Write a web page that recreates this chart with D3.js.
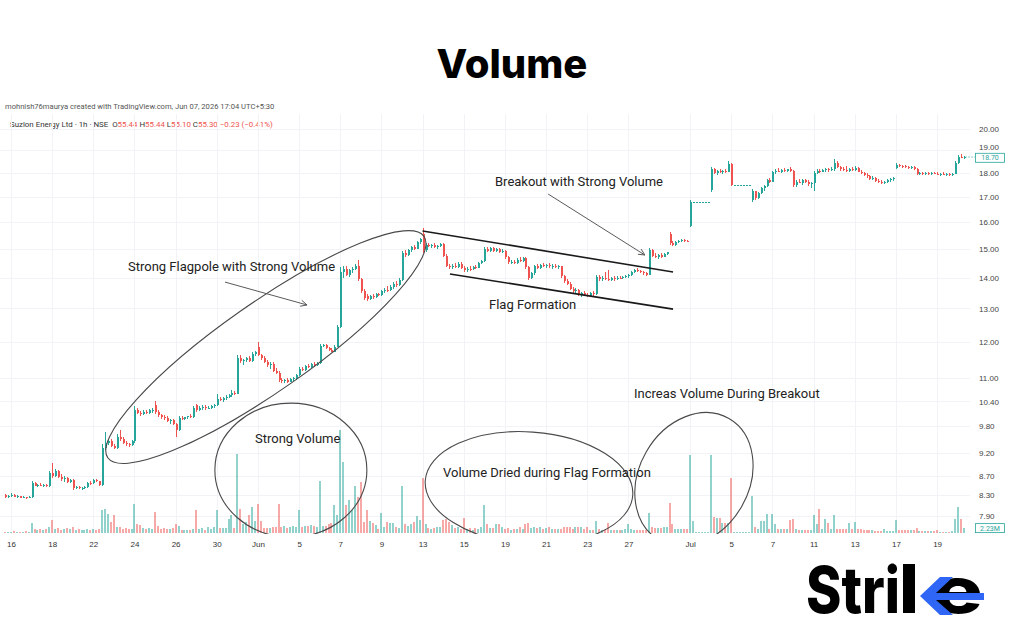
<!DOCTYPE html>
<html>
<head>
<meta charset="utf-8">
<script src="https://cdn.jsdelivr.net/npm/d3@7"></script>
<style>
  html, body { margin: 0; padding: 0; background: #fff; }
  svg { display: block; font-family: Roboto, "Liberation Sans", sans-serif; }
</style>
</head>
<body>
<svg id="chart" width="1024" height="640"></svg>
<script>
// hourly bars, 7 per session (first two belong to the session before "16")
const opens = [
  8.30, 8.26,
  8.29, 8.31, 8.27, 8.28, 8.25, 8.26, 8.25,
  8.26, 8.56, 8.50, 8.52, 8.49, 8.51, 8.48,
  8.76, 8.70, 8.80, 8.68, 8.64, 8.66, 8.57,
  8.61, 8.44, 8.47, 8.44, 8.45, 8.46, 8.56,
  8.55, 8.61, 8.59, 8.52, 9.30, 9.42, 9.46,
  9.35, 9.30, 9.55, 9.50, 9.42, 9.38, 9.36,
  9.45, 10.20, 10.12, 10.10, 10.14, 10.12, 10.18,
  10.30, 10.14, 10.06, 10.02, 10.00, 9.92, 9.94,
  9.85, 9.70, 10.00, 9.97, 10.01, 10.04, 10.02,
  10.30, 10.20, 10.24, 10.27, 10.23, 10.25, 10.28,
  10.30, 10.46, 10.44, 10.48, 10.52, 10.55, 10.62,
  10.60, 11.55, 11.45, 11.48, 11.55, 11.46, 11.66,
  11.84, 11.62, 11.55, 11.44, 11.35, 11.38, 11.20,
  11.14, 10.95, 10.92, 10.95, 10.91, 10.97, 10.99,
  11.08, 11.24, 11.22, 11.32, 11.30, 11.37, 11.34,
  11.40, 11.88, 11.90, 11.82, 11.76, 11.72, 11.86,
  12.44, 14.20, 14.30, 14.10, 14.25, 14.28, 14.40,
  13.95, 13.55, 13.40, 13.30, 13.38, 13.35, 13.45,
  13.42, 13.55, 13.60, 13.58, 13.70, 13.80, 13.76,
  13.92, 14.85, 14.78, 14.95, 15.05, 15.00, 15.25,
  15.55, 14.95, 15.15, 15.10, 15.14, 15.08, 15.12,
  15.18, 14.75, 14.40, 14.35, 14.40, 14.36, 14.48,
  14.34, 14.25, 14.30, 14.28, 14.36, 14.34, 14.50,
  14.58, 15.00, 14.92, 15.02, 14.94, 14.98, 14.88,
  14.92, 14.70, 14.52, 14.55, 14.50, 14.62, 14.58,
  14.66, 14.35, 13.98, 14.15, 14.38, 14.34, 14.42,
  14.40, 14.44, 14.38, 14.41, 14.35, 14.38, 14.05,
  13.88, 13.80, 13.62, 13.55, 13.60, 13.45, 13.48,
  13.42, 13.38, 13.48, 13.45, 14.02, 13.95, 14.00,
  13.96, 13.92, 13.98, 13.95, 14.00, 13.97, 14.02,
  14.05, 14.10, 14.18, 14.26, 14.24, 14.18, 14.14,
  14.10, 14.95, 14.75, 14.70, 14.78, 14.72, 14.82,
  15.55, 15.20, 15.15, 15.26, 15.30, 15.33, 15.30,
  15.85, 16.79, 16.79, 16.79, 16.79, 16.79, 16.79,
  17.28, 18.15, 18.00, 18.08, 18.02, 18.10, 18.06,
  18.40, 17.48, 17.48, 17.48, 17.48, 17.48, 17.48,
  16.85, 17.22, 16.95, 17.15, 17.35, 17.45, 17.68,
  17.62, 18.04, 18.10, 18.05, 18.14, 18.08, 18.16,
  18.10, 17.48, 17.62, 17.58, 17.68, 17.60, 17.52,
  17.58, 18.00, 18.10, 18.04, 18.14, 18.18, 18.12,
  18.18, 18.45, 18.25, 18.15, 18.12, 18.10, 18.18,
  18.12, 18.22, 18.05, 18.00, 17.90, 17.85, 17.75,
  17.80, 17.65, 17.60, 17.58, 17.62, 17.68, 17.72,
  18.20, 18.36, 18.30, 18.28, 18.25, 18.22, 18.24,
  18.18, 17.96, 18.00, 17.96, 17.98, 17.95, 17.99,
  17.97, 17.94, 17.96, 17.92, 17.94, 17.90, 17.96,
  18.42, 18.72, 18.66
];
const highs = [
  8.33, 8.31,
  8.35, 8.32, 8.30, 8.29, 8.28, 8.27, 8.28,
  8.60, 8.58, 8.54, 8.55, 8.53, 8.53, 8.80,
  8.97, 8.84, 8.82, 8.74, 8.70, 8.68, 8.63,
  8.63, 8.49, 8.49, 8.47, 8.48, 8.58, 8.60,
  8.63, 8.64, 8.60, 9.38, 9.66, 9.50, 9.50,
  9.40, 9.62, 9.70, 9.54, 9.45, 9.42, 9.48,
  10.28, 10.24, 10.16, 10.18, 10.20, 10.22, 10.24,
  10.42, 10.18, 10.10, 10.06, 10.04, 9.97, 9.96,
  9.88, 10.05, 10.04, 10.03, 10.05, 10.08, 10.28,
  10.34, 10.28, 10.30, 10.30, 10.28, 10.30, 10.34,
  10.60, 10.52, 10.50, 10.56, 10.58, 10.68, 10.66,
  11.62, 11.62, 11.52, 11.58, 11.60, 11.70, 11.74,
  12.00, 11.66, 11.60, 11.50, 11.42, 11.42, 11.28,
  11.18, 11.00, 10.98, 10.99, 11.00, 11.02, 11.12,
  11.30, 11.30, 11.36, 11.38, 11.40, 11.44, 11.42,
  11.95, 11.95, 11.94, 11.86, 11.82, 11.92, 12.50,
  14.35, 14.40, 14.38, 14.30, 14.35, 14.48, 14.62,
  14.00, 13.62, 13.45, 13.42, 13.45, 13.48, 13.50,
  13.60, 13.65, 13.72, 13.75, 13.85, 13.88, 13.98,
  14.92, 14.95, 15.00, 15.10, 15.15, 15.30, 15.40,
  15.78, 15.22, 15.22, 15.18, 15.20, 15.15, 15.22,
  15.20, 14.80, 14.48, 14.45, 14.50, 14.55, 14.52,
  14.40, 14.35, 14.38, 14.40, 14.42, 14.55, 14.62,
  15.08, 15.06, 15.05, 15.06, 15.02, 15.04, 14.98,
  14.96, 14.75, 14.60, 14.62, 14.66, 14.72, 14.70,
  14.70, 14.38, 14.20, 14.42, 14.45, 14.48, 14.50,
  14.48, 14.50, 14.46, 14.46, 14.42, 14.40, 14.10,
  13.95, 13.85, 13.68, 13.64, 13.62, 13.52, 13.55,
  13.50, 13.52, 13.56, 14.10, 14.08, 14.05, 14.20,
  14.25, 14.02, 14.05, 14.04, 14.06, 14.05, 14.08,
  14.12, 14.22, 14.30, 14.34, 14.26, 14.22, 14.18,
  15.02, 15.00, 14.85, 14.82, 14.84, 14.86, 14.90,
  15.62, 15.28, 15.30, 15.34, 15.36, 15.36, 15.34,
  16.85, 16.79, 16.79, 16.79, 16.79, 16.79, 16.79,
  18.25, 18.22, 18.12, 18.15, 18.12, 18.18, 18.50,
  18.45, 17.48, 17.48, 17.48, 17.48, 17.48, 17.48,
  17.30, 17.25, 17.20, 17.40, 17.50, 17.72, 17.80,
  18.10, 18.15, 18.20, 18.18, 18.20, 18.18, 18.25,
  18.14, 17.70, 17.75, 17.72, 17.74, 17.68, 17.62,
  18.08, 18.15, 18.18, 18.18, 18.22, 18.22, 18.24,
  18.60, 18.50, 18.32, 18.25, 18.28, 18.22, 18.26,
  18.30, 18.26, 18.12, 18.06, 17.98, 17.92, 17.85,
  17.84, 17.72, 17.68, 17.66, 17.72, 17.76, 17.82,
  18.42, 18.40, 18.36, 18.34, 18.32, 18.30, 18.28,
  18.22, 18.05, 18.04, 18.02, 18.04, 18.02, 18.05,
  18.02, 18.00, 18.02, 17.98, 17.99, 18.00, 18.50,
  18.80, 18.82, 18.76
];
const lows = [
  8.24, 8.25,
  8.27, 8.26, 8.25, 8.24, 8.24, 8.23, 8.24,
  8.24, 8.48, 8.47, 8.48, 8.47, 8.46, 8.47,
  8.66, 8.68, 8.66, 8.60, 8.58, 8.55, 8.55,
  8.40, 8.42, 8.42, 8.41, 8.42, 8.45, 8.52,
  8.54, 8.57, 8.50, 8.50, 9.25, 9.36, 9.32,
  9.28, 9.28, 9.45, 9.38, 9.34, 9.32, 9.34,
  9.42, 10.08, 10.05, 10.06, 10.10, 10.08, 10.12,
  10.10, 10.02, 9.98, 9.95, 9.90, 9.86, 9.82,
  9.55, 9.68, 9.94, 9.95, 9.96, 9.99, 10.00,
  10.15, 10.16, 10.20, 10.20, 10.21, 10.22, 10.24,
  10.28, 10.40, 10.38, 10.44, 10.48, 10.50, 10.56,
  10.58, 11.40, 11.35, 11.44, 11.42, 11.44, 11.60,
  11.60, 11.50, 11.40, 11.30, 11.25, 11.15, 11.10,
  10.90, 10.86, 10.88, 10.88, 10.89, 10.93, 10.96,
  11.05, 11.18, 11.20, 11.26, 11.27, 11.30, 11.32,
  11.38, 11.84, 11.80, 11.74, 11.70, 11.70, 11.84,
  12.40, 14.00, 14.05, 14.02, 14.15, 14.25, 13.90,
  13.50, 13.28, 13.25, 13.26, 13.30, 13.32, 13.38,
  13.40, 13.48, 13.52, 13.55, 13.62, 13.70, 13.72,
  13.90, 14.70, 14.74, 14.88, 14.95, 14.98, 15.18,
  14.85, 14.90, 15.05, 15.02, 15.04, 15.00, 15.08,
  14.70, 14.35, 14.30, 14.30, 14.32, 14.34, 14.30,
  14.20, 14.18, 14.24, 14.25, 14.30, 14.32, 14.45,
  14.55, 14.88, 14.90, 14.90, 14.88, 14.85, 14.84,
  14.65, 14.48, 14.45, 14.48, 14.48, 14.55, 14.54,
  14.30, 13.92, 13.95, 14.10, 14.30, 14.30, 14.35,
  14.32, 14.34, 14.30, 14.32, 14.30, 14.00, 13.82,
  13.75, 13.58, 13.50, 13.48, 13.40, 13.35, 13.38,
  13.36, 13.35, 13.40, 13.42, 13.90, 13.88, 13.92,
  13.88, 13.88, 13.90, 13.92, 13.94, 13.94, 13.98,
  14.00, 14.06, 14.15, 14.20, 14.14, 14.10, 14.06,
  14.08, 14.70, 14.66, 14.65, 14.68, 14.70, 14.78,
  15.15, 15.10, 15.12, 15.20, 15.25, 15.26, 15.24,
  15.80, 16.79, 16.79, 16.79, 16.79, 16.79, 16.79,
  17.20, 17.95, 17.92, 17.98, 17.96, 18.00, 18.02,
  17.45, 17.48, 17.48, 17.48, 17.48, 17.48, 17.48,
  16.80, 16.88, 16.90, 17.10, 17.25, 17.40, 17.55,
  17.60, 17.95, 18.02, 18.00, 18.05, 18.04, 18.06,
  17.40, 17.42, 17.55, 17.50, 17.55, 17.45, 17.35,
  17.25, 17.95, 18.00, 18.02, 18.06, 18.05, 18.10,
  18.10, 18.20, 18.10, 18.08, 18.06, 18.06, 18.10,
  18.08, 18.02, 17.95, 17.85, 17.80, 17.70, 17.68,
  17.60, 17.55, 17.52, 17.52, 17.58, 17.60, 17.66,
  18.15, 18.26, 18.22, 18.20, 18.18, 18.16, 18.12,
  17.90, 17.92, 17.92, 17.90, 17.92, 17.90, 17.94,
  17.90, 17.88, 17.90, 17.86, 17.88, 17.86, 17.94,
  18.40, 18.64, 18.62
];
const closes = [
  8.26, 8.29,
  8.31, 8.27, 8.28, 8.25, 8.26, 8.25, 8.26,
  8.56, 8.50, 8.52, 8.49, 8.51, 8.48, 8.76,
  8.70, 8.80, 8.68, 8.64, 8.66, 8.57, 8.61,
  8.44, 8.47, 8.44, 8.45, 8.46, 8.56, 8.55,
  8.61, 8.59, 8.52, 9.30, 9.42, 9.46, 9.35,
  9.30, 9.55, 9.50, 9.42, 9.38, 9.36, 9.45,
  10.20, 10.12, 10.10, 10.14, 10.12, 10.18, 10.20,
  10.14, 10.06, 10.02, 10.00, 9.92, 9.94, 9.85,
  9.70, 10.00, 9.97, 10.01, 10.04, 10.02, 10.24,
  10.20, 10.24, 10.27, 10.23, 10.25, 10.28, 10.30,
  10.46, 10.44, 10.48, 10.52, 10.55, 10.62, 10.60,
  11.55, 11.45, 11.48, 11.55, 11.46, 11.66, 11.70,
  11.62, 11.55, 11.44, 11.35, 11.38, 11.20, 11.14,
  10.95, 10.92, 10.95, 10.91, 10.97, 10.99, 11.08,
  11.24, 11.22, 11.32, 11.30, 11.37, 11.34, 11.40,
  11.88, 11.90, 11.82, 11.76, 11.72, 11.86, 12.44,
  14.20, 14.30, 14.10, 14.25, 14.28, 14.40, 13.95,
  13.55, 13.33, 13.30, 13.38, 13.35, 13.45, 13.42,
  13.55, 13.60, 13.58, 13.70, 13.80, 13.76, 13.92,
  14.85, 14.78, 14.95, 15.05, 15.00, 15.25, 15.35,
  14.95, 15.15, 15.10, 15.14, 15.08, 15.12, 15.18,
  14.75, 14.40, 14.35, 14.40, 14.36, 14.48, 14.34,
  14.25, 14.30, 14.28, 14.36, 14.34, 14.50, 14.58,
  15.00, 14.92, 15.02, 14.94, 14.98, 14.88, 14.92,
  14.70, 14.52, 14.55, 14.50, 14.62, 14.58, 14.66,
  14.35, 13.98, 14.15, 14.38, 14.34, 14.42, 14.40,
  14.44, 14.38, 14.41, 14.35, 14.38, 14.05, 13.88,
  13.80, 13.62, 13.55, 13.60, 13.45, 13.48, 13.42,
  13.38, 13.48, 13.45, 14.02, 13.95, 14.00, 13.96,
  13.92, 13.98, 13.95, 14.00, 13.97, 14.02, 14.05,
  14.10, 14.18, 14.26, 14.24, 14.18, 14.14, 14.10,
  14.95, 14.75, 14.70, 14.78, 14.72, 14.82, 14.88,
  15.20, 15.15, 15.26, 15.30, 15.33, 15.30, 15.28,
  16.79, 16.79, 16.79, 16.79, 16.79, 16.79, 16.79,
  18.15, 18.00, 18.08, 18.02, 18.10, 18.06, 18.40,
  17.48, 17.48, 17.48, 17.48, 17.48, 17.48, 17.48,
  17.22, 16.95, 17.15, 17.35, 17.45, 17.68, 17.62,
  18.04, 18.10, 18.05, 18.14, 18.08, 18.16, 18.10,
  17.48, 17.62, 17.58, 17.68, 17.60, 17.52, 17.58,
  18.00, 18.10, 18.04, 18.14, 18.18, 18.12, 18.18,
  18.45, 18.25, 18.15, 18.12, 18.10, 18.18, 18.12,
  18.22, 18.05, 18.00, 17.90, 17.85, 17.75, 17.80,
  17.65, 17.60, 17.58, 17.62, 17.68, 17.72, 17.78,
  18.36, 18.30, 18.28, 18.25, 18.22, 18.24, 18.18,
  17.96, 18.00, 17.96, 17.98, 17.95, 17.99, 17.97,
  17.94, 17.96, 17.92, 17.94, 17.90, 17.96, 18.42,
  18.72, 18.66, 18.70
];
// volume in millions
const volumes = [
  0.5, 0.5,
  0.5, 0.9, 0.5, 0.5, 0.5, 0.9, 0.5,
  4.5, 1.8, 1.4, 1.8, 1.4, 1.8, 2.7,
  5.9, 1.8, 2.3, 1.4, 1.8, 2.3, 1.8,
  2.7, 1.4, 1.8, 1.4, 1.4, 1.8, 1.4,
  1.8, 1.4, 1.8, 10.5, 10.9, 8.6, 5.0,
  8.2, 2.7, 2.7, 1.8, 2.3, 1.8, 1.8,
  13.2, 4.1, 3.6, 2.3, 1.8, 2.3, 1.8,
  9.5, 3.2, 1.8, 2.3, 1.8, 1.8, 2.3,
  4.1, 3.2, 1.4, 1.4, 1.4, 1.4, 1.8,
  10.5, 1.8, 2.3, 1.4, 2.7, 1.8, 2.7,
  10.5, 2.3, 2.3, 2.3, 6.4, 8.2, 2.3,
  35.9, 10.9, 4.1, 5.0, 8.2, 11.8, 5.5,
  13.2, 5.5, 2.3, 2.3, 2.3, 2.7, 2.7,
  13.2, 2.7, 3.2, 2.3, 2.7, 3.2, 2.7,
  10.5, 2.7, 3.2, 3.2, 3.6, 3.2, 2.7,
  23.6, 3.2, 3.2, 4.1, 4.5, 12.7, 8.2,
  46.8, 32.3, 12.7, 15.0, 10.5, 21.4, 16.4,
  23.2, 5.0, 10.5, 5.5, 4.5, 3.6, 1.8,
  9.1, 2.7, 5.0, 4.5, 4.5, 2.7, 2.3,
  21.4, 4.1, 3.2, 4.1, 5.0, 7.7, 5.9,
  25.0, 4.1, 2.3, 1.8, 2.3, 2.7, 2.7,
  5.9, 6.4, 5.0, 3.6, 2.3, 2.7, 1.8,
  6.8, 1.8, 2.3, 1.4, 2.3, 1.8, 2.7,
  12.7, 4.1, 2.3, 2.3, 4.1, 4.1, 2.7,
  1.8, 2.3, 1.4, 1.8, 1.8, 2.7, 1.8,
  4.1, 4.5, 2.3, 2.7, 2.3, 2.7, 1.8,
  2.3, 2.7, 1.8, 1.8, 1.8, 1.8, 2.7,
  2.7, 2.7, 1.8, 2.7, 2.7, 2.7, 1.8,
  2.7, 1.4, 1.4, 5.5, 1.8, 1.4, 1.4,
  4.5, 1.4, 1.4, 1.4, 1.4, 1.4, 1.8,
  4.1, 1.8, 1.4, 1.4, 1.4, 1.4, 1.4,
  9.1, 2.7, 2.3, 2.3, 2.3, 2.7, 2.7,
  13.6, 4.1, 1.8, 1.8, 1.8, 1.8, 1.8,
  35.5, 5.5, 0.3, 0.3, 0.3, 0.3, 0.3,
  35.5, 7.3, 6.8, 6.8, 4.5, 4.5, 4.5,
  25.0, 0.3, 0.3, 0.3, 0.3, 0.3, 0.3,
  16.8, 2.7, 1.8, 5.5, 5.5, 8.6, 1.8,
  8.6, 4.1, 1.8, 1.8, 1.8, 1.8, 5.9,
  6.4, 1.8, 1.4, 1.4, 1.4, 1.4, 1.4,
  8.2, 4.1, 10.9, 1.8, 6.4, 4.5, 1.8,
  8.2, 1.8, 1.8, 1.8, 1.8, 4.5, 1.8,
  5.0, 1.8, 1.8, 1.4, 1.4, 1.4, 1.4,
  0.9, 0.9, 0.9, 1.8, 0.9, 0.9, 0.9,
  5.9, 1.4, 1.4, 1.4, 1.4, 1.4, 1.4,
  2.3, 0.9, 0.9, 0.9, 0.9, 0.9, 0.9,
  1.4, 0.5, 0.5, 0.5, 0.5, 0.9, 6.4,
  11.8, 6.4, 2.23
];

const dateIdx = [2, 16, 30, 44, 58, 72, 86, 100, 114, 128, 142, 156, 170, 184, 198, 212, 233, 247, 261, 275, 289, 303, 317];
const dateLabels = ['16', '18', '22', '24', '26', '30', 'Jun', '5', '7', '9', '13', '15', '19', '21', '23', '27', 'Jul', '5', '7', '11', '13', '17', '19'];
const priceTicks = [7.9, 8.3, 8.7, 9.2, 9.8, 10.4, 11, 12, 13, 14, 15, 16, 17, 18, 19, 20];

// drawings on the chart, in bar index / price units
const trendLines = [
  { i1: 142, p1: 15.66, i2: 227.2, p2: 14.19 },
  { i1: 151.3, p1: 14.12, i2: 227.2, p2: 12.98 }
];
const arrows = [
  { i1: 74.8, p1: 13.85, i2: 102.7, p2: 13.11 },
  { i1: 184.7, p1: 17.11, i2: 217.6, p2: 14.78 }
];
const ellipses = [
  { i: 88.7, p: 11.85, rx: 193, ry: 44, rot: -35 },
  { i: 97.2, p: 8.82, rx: 76, ry: 67, rot: 0 },
  { i: 178.2, p: 8.45, rx: 104, ry: 56, rot: 4 },
  { i: 234.3, p: 8.63, rx: 70, ry: 55, rot: -60 }
];
const notes = [
  { text: 'Strong Flagpole with Strong Volume', x: 128, y: 271 },
  { text: 'Breakout with Strong Volume', x: 495, y: 186 },
  { text: 'Flag Formation', x: 489, y: 309 },
  { text: 'Strong Volume', x: 255, y: 443 },
  { text: 'Volume Dried during Flag Formation', x: 443, y: 477 },
  { text: 'Increas Volume During Breakout', x: 634, y: 398 }
];

const W = 1024, H = 640;
const up = '#26a69a', down = '#ef5350';
const bars = closes.map((c, i) => ({ i, o: opens[i], h: highs[i], l: lows[i], c, v: volumes[i] }));

const svg = d3.select('#chart');
svg.append('rect').attr('width', W).attr('height', H).attr('fill', '#fff');

const x = d3.scaleLinear().domain([0, bars.length - 1]).range([5.1, 5.1 + 2.94 * (bars.length - 1)]);
const y = d3.scaleLog().domain([7.9, 20]).range([516, 129]);
const yVol = d3.scaleLinear().domain([0, 47]).range([533, 430]);

svg.append('defs').append('clipPath').attr('id', 'pane')
  .append('rect').attr('x', 0).attr('y', 114).attr('width', 970).attr('height', 420);

// title
svg.append('text').attr('x', 512).attr('y', 78).attr('text-anchor', 'middle')
  .style('font-family', 'Inter, "Noto Sans", sans-serif').style('font-weight', 800)
  .style('font-size', '40px').attr('fill', '#000').text('Volume');

// header lines
svg.append('text').attr('x', 5).attr('y', 109).style('font-size', '7.6px').attr('fill', '#555')
  .text('mohnish76maurya created with TradingView.com, Jun 07, 2026 17:04 UTC+5:30');
const hdr = svg.append('text').attr('x', 10).attr('y', 127).style('font-size', '7.9px').attr('fill', '#333');
hdr.append('tspan').text('Suzlon Energy Ltd · 1h · NSE ');
[['O', '55.44'], ['H', '55.44'], ['L', '55.10'], ['C', '55.30']].forEach(([k, v]) => {
  hdr.append('tspan').text('\u00a0' + k);
  hdr.append('tspan').attr('fill', down).text(v);
});
hdr.append('tspan').attr('fill', down).text('\u00a0−0.23 (−0.41%)');

// grid
const grid = svg.append('g').attr('stroke', '#f1f3f7').attr('shape-rendering', 'crispEdges');
grid.selectAll('.vg').data(dateIdx).join('line').attr('class', 'vg')
  .attr('x1', d => Math.round(x(d)) + 0.5).attr('x2', d => Math.round(x(d)) + 0.5)
  .attr('y1', 114).attr('y2', 534);
grid.selectAll('.hg').data(priceTicks).join('line').attr('class', 'hg')
  .attr('x1', 0).attr('x2', 970)
  .attr('y1', d => Math.round(y(d)) + 0.5).attr('y2', d => Math.round(y(d)) + 0.5);

const plot = svg.append('g').attr('clip-path', 'url(#pane)');

// volume
plot.append('g').attr('shape-rendering', 'crispEdges').selectAll('rect').data(bars).join('rect')
  .attr('x', d => Math.round(x(d.i)) - 1).attr('width', 2)
  .attr('y', d => yVol(d.v)).attr('height', d => yVol(0) - yVol(d.v))
  .attr('fill', d => d.c >= d.o ? up : down).attr('fill-opacity', 0.5);

// candles
const candle = plot.append('g').attr('shape-rendering', 'crispEdges').selectAll('g').data(bars).join('g')
  .attr('fill', d => d.c >= d.o ? up : down).attr('stroke', d => d.c >= d.o ? up : down);
candle.append('line')
  .attr('x1', d => Math.round(x(d.i)) + 0.5).attr('x2', d => Math.round(x(d.i)) + 0.5)
  .attr('y1', d => y(d.h)).attr('y2', d => y(d.l));
candle.append('rect').attr('stroke', 'none')
  .attr('x', d => Math.round(x(d.i)) - 0.5).attr('width', 2)
  .attr('y', d => y(Math.max(d.o, d.c)))
  .attr('height', d => Math.max(1, Math.abs(y(d.o) - y(d.c))));

// drawings
const draw = plot.append('g').attr('fill', 'none');
draw.selectAll('.trend').data(trendLines).join('line').attr('class', 'trend')
  .attr('x1', d => x(d.i1)).attr('y1', d => y(d.p1)).attr('x2', d => x(d.i2)).attr('y2', d => y(d.p2))
  .attr('stroke', '#1a1a1a').attr('stroke-width', 1.6);
draw.selectAll('ellipse').data(ellipses).join('ellipse')
  .attr('transform', d => `translate(${x(d.i)},${y(d.p)}) rotate(${d.rot})`)
  .attr('rx', d => d.rx).attr('ry', d => d.ry)
  .attr('stroke', '#4a4a4a').attr('stroke-width', 1.1);
const arr = draw.selectAll('.arrow').data(arrows).join('g').attr('class', 'arrow')
  .attr('stroke', '#5a5a5a').attr('stroke-width', 1);
arr.append('line').attr('x1', d => x(d.i1)).attr('y1', d => y(d.p1)).attr('x2', d => x(d.i2)).attr('y2', d => y(d.p2));
arr.append('path').attr('d', d => {
  const x2 = x(d.i2), y2 = y(d.p2);
  const a = Math.atan2(y2 - y(d.p1), x2 - x(d.i1));
  const L = 7, s = 0.45;
  return `M${x2 - L * Math.cos(a - s)},${y2 - L * Math.sin(a - s)}L${x2},${y2}L${x2 - L * Math.cos(a + s)},${y2 - L * Math.sin(a + s)}`;
});

svg.append('g').selectAll('text').data(notes).join('text')
  .attr('x', d => d.x).attr('y', d => d.y)
  .style('font-size', '13px').attr('fill', '#222').text(d => d.text);

// axes
const last = bars[bars.length - 1];
svg.append('g').attr('transform', 'translate(979,0)')
  .call(d3.axisRight(y).tickValues(priceTicks).tickFormat(d3.format('.2f')).tickSize(0).tickPadding(0))
  .call(g => g.select('.domain').remove())
  .selectAll('text').style('font-size', '8px').attr('fill', '#444')
  // the tick just above the last-price tag sits a little higher, as in TradingView
  .attr('y', d => (Math.abs(y(d) - y(last.c)) < 12 ? -3.5 : 0));
svg.append('g').attr('transform', 'translate(0,541)')
  .call(d3.axisBottom(x).tickValues(dateIdx).tickFormat((d, i) => dateLabels[i]).tickSize(0).tickPadding(0))
  .call(g => g.select('.domain').remove())
  .selectAll('text').style('font-size', '8px').attr('fill', '#333');

// last price / last volume markers
svg.append('line').attr('x1', x(last.i) + 2).attr('x2', 975).attr('y1', y(last.c)).attr('y2', y(last.c))
  .attr('stroke', up).attr('stroke-dasharray', '1,2');
[[y(last.c) + 0.8, d3.format('.2f')(last.c)], [yVol(last.v), last.v.toFixed(2) + 'M']].forEach(([yy, t]) => {
  svg.append('rect').attr('x', 975.5).attr('y', yy - 4.5).attr('width', 29).attr('height', 9)
    .attr('fill', '#fff').attr('stroke', up).attr('stroke-width', 0.8);
  svg.append('text').attr('x', 990).attr('y', yy + 2.5).attr('text-anchor', 'middle')
    .style('font-size', '7px').attr('fill', up).text(t);
});

// logo
const logo = svg.append('g').style('font-family', 'Inter, "Noto Sans", sans-serif').style('font-weight', 800);
logo.append('text').attr('x', 806).attr('y', 613).style('font-size', '64px')
  .attr('textLength', 94).attr('lengthAdjust', 'spacingAndGlyphs').attr('fill', '#000').text('Stri');
logo.append('rect').attr('x', 903).attr('y', 564).attr('width', 12).attr('height', 49).attr('fill', '#000');
logo.append('text').attr('x', 932).attr('y', 613).style('font-size', '64px')
  .attr('textLength', 51).attr('lengthAdjust', 'spacingAndGlyphs').attr('fill', '#000').text('e');
logo.append('path').attr('fill', '#2f66f5')
  .attr('d', 'M920,596 L940,577 L953,577 L936,593 L984,593 L984,600 L936,600 L953,615 L940,615 Z');
</script>
</body>
</html>
